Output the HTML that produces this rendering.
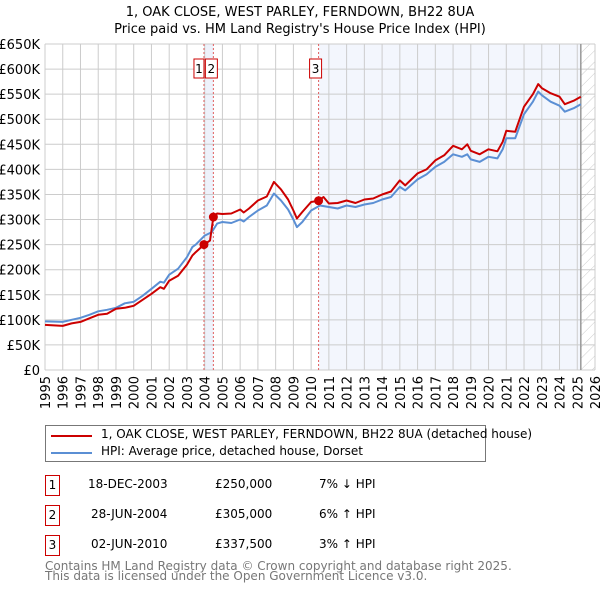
<!DOCTYPE html>
<html><head><meta charset="utf-8"><style>
body{margin:0;background:#fff;font-family:"Liberation Sans","DejaVu Sans",sans-serif;}
#wrap{position:relative;width:600px;height:590px;overflow:hidden}
svg text{font-family:"DejaVu Sans","Liberation Sans",sans-serif}
</style></head><body><div id="wrap">
<svg id="chart" width="600" height="590"></svg>
</div>
<script>
const hpiYears=[1995,1996,1996.5,1997,1997.5,1998,1998.5,1999,1999.5,2000,2000.5,2001,2001.5,2001.7,2002,2002.5,2003,2003.3,2003.5,2004,2004.4,2004.7,2005,2005.5,2006,2006.2,2006.5,2007,2007.5,2007.9,2008.3,2008.7,2009,2009.2,2009.5,2010,2010.5,2011,2011.5,2012,2012.5,2013,2013.5,2014,2014.5,2015,2015.3,2016,2016.5,2017,2017.5,2018,2018.5,2018.8,2019,2019.5,2020,2020.5,2020.8,2021,2021.5,2022,2022.5,2022.8,2023,2023.5,2024,2024.3,2024.8,2025.2];
const hpiValues=[97,96,100,104,110,117,120,124,133,136,148,162,176,174,190,202,225,245,250,268,275,292,295,293,300,296,305,318,328,352,338,320,300,285,295,318,328,325,322,328,325,330,333,340,345,365,358,380,390,405,415,430,425,430,420,415,425,422,440,462,462,510,535,555,548,535,527,515,522,530];
const propYears=[1995,1996,1996.5,1997,1997.5,1998,1998.5,1999,1999.5,2000,2000.5,2001,2001.5,2001.7,2002,2002.5,2003,2003.3,2003.5,2003.96,2004.3,2004.49,2004.7,2005,2005.5,2006,2006.2,2006.5,2007,2007.5,2007.9,2008.3,2008.7,2009,2009.2,2009.5,2010,2010.42,2010.7,2011,2011.5,2012,2012.5,2013,2013.5,2014,2014.5,2015,2015.3,2016,2016.5,2017,2017.5,2018,2018.5,2018.8,2019,2019.5,2020,2020.5,2020.8,2021,2021.5,2022,2022.5,2022.8,2023,2023.5,2024,2024.3,2024.8,2025.2];
const propValues=[90,88,93,96,103,110,112,122,124,128,140,152,165,162,178,188,210,228,235,250,258,305,312,311,312,320,314,322,338,346,375,360,340,318,302,315,335,337.5,345,332,333,338,333,340,342,350,356,378,368,392,400,418,428,447,440,450,437,430,440,436,455,477,475,525,550,570,562,552,545,530,537,545];
const saleYears=[2003.96,2004.49,2010.42];
const saleValues=[250,305,337.5];
const saleLabels=["1","2","3"];
const yTicks=[0,50,100,150,200,250,300,350,400,450,500,550,600,650];
const yTickLabels=["£0","£50K","£100K","£150K","£200K","£250K","£300K","£350K","£400K","£450K","£500K","£550K","£600K","£650K"];
const xTicks=[1995,1996,1997,1998,1999,2000,2001,2002,2003,2004,2005,2006,2007,2008,2009,2010,2011,2012,2013,2014,2015,2016,2017,2018,2019,2020,2021,2022,2023,2024,2025,2026];

const L=45,R=595,T=44,B=370,X0=1995,X1=2026,YMAX=650;
const xs=v=>L+(v-X0)/(X1-X0)*(R-L);
const ys=v=>B-v/YMAX*(B-T);
const NS="http://www.w3.org/2000/svg";
const svg=document.getElementById('chart');
function mk(tag,attrs,parent){const e=document.createElementNS(NS,tag);for(const k in attrs)e.setAttribute(k,attrs[k]);(parent||svg).appendChild(e);return e;}
function txt(s,attrs){const e=mk('text',attrs);e.textContent=s;return e;}

let t=txt("1, OAK CLOSE, WEST PARLEY, FERNDOWN, BH22 8UA",{x:300,y:16,'text-anchor':'middle','font-size':13,fill:'#000'});


t=txt("Price paid vs. HM Land Registry's House Price Index (HPI)",{x:300,y:33,'text-anchor':'middle','font-size':13,fill:'#000'});



// shaded regions
let r=mk('rect',{x:xs(saleYears[0]),y:T,width:xs(saleYears[1])-xs(saleYears[0]),height:B-T,fill:'#eef2fb'});


r=mk('rect',{x:xs(saleYears[2]),y:T,width:xs(2025.2)-xs(saleYears[2]),height:B-T,fill:'#f3f6fd'});


// hatch
const defs=mk('defs',{});
const pat=mk('pattern',{id:'hatch',width:8,height:8,patternUnits:'userSpaceOnUse',patternTransform:'rotate(45)'},defs);
mk('line',{x1:0,y1:0,x2:0,y2:8,stroke:'#ccc','stroke-width':1},pat);
r=mk('rect',{x:xs(2025.2),y:T,width:R-xs(2025.2),height:B-T,fill:'url(#hatch)'});



// grid
yTicks.forEach((v,i)=>{
  const g=mk('line',{x1:L,x2:R,y1:ys(v),y2:ys(v),stroke:'#cccccc','stroke-width':1});
  
  
  const l=txt(yTickLabels[i],{x:40,y:ys(v)+5,'text-anchor':'end','font-size':13,fill:'#000'});
  
  
});
xTicks.forEach(v=>{
  const g=mk('line',{x1:xs(v),x2:xs(v),y1:T,y2:B,stroke:'#cccccc','stroke-width':1});
  
  
  const l=txt(String(v),{x:0,y:0,'text-anchor':'end','font-size':13,fill:'#000',transform:`translate(${xs(v)+5},${B+6}) rotate(-90)`});
  
  
});
let ln=mk('line',{x1:xs(2025.2),x2:xs(2025.2),y1:T,y2:B,stroke:'#999','stroke-width':1.5});



// sale vertical lines
saleYears.forEach((y,i)=>{
  const l=mk('line',{x1:xs(y),x2:xs(y),y1:T,y2:B,stroke:'#e06060','stroke-width':1,'stroke-dasharray':'2,2'});
  
  
});

function path(xa,ya,color,name){
  let d='';xa.forEach((x,i)=>{d+=(i?'L':'M')+xs(x).toFixed(1)+','+ys(ya[i]).toFixed(1);});
  const p=mk('path',{d:d,fill:'none',stroke:color,'stroke-width':2,'stroke-linejoin':'round'});
  
  
}
path(hpiYears,hpiValues,'#5b8fd4','hpi-line');
path(propYears,propValues,'#cc0000','property-price-line');

saleYears.forEach((y,i)=>{
  const c=mk('circle',{cx:xs(y),cy:ys(saleValues[i]),r:4.5,fill:'#cc0000'});
  
  
  const bx=i===0?xs(y)-10:(i===1?xs(y)-8:xs(y)-9);
  const rb=mk('rect',{x:bx,y:59,width:i===0?10:12,height:19,fill:'#fff',stroke:'#cc0000','stroke-width':1});
  
  
  const tt=txt(saleLabels[i],{x:bx+(i===0?5:6),y:73,'text-anchor':'middle','font-size':12,fill:'#000'});
  
  
});
// redraw box 1 on top (box2 overlaps)
</script>
<div style="position:absolute;left:45px;top:425px;width:439px;height:35px;border:1px solid #777;font-size:12px;font-family:'DejaVu Sans','Liberation Sans',sans-serif">
 <div style="position:absolute;left:5px;top:9px;width:41px;height:2px;background:#cc0000"></div>
 <div style="position:absolute;left:55px;top:1px;white-space:nowrap">1, OAK CLOSE, WEST PARLEY, FERNDOWN, BH22 8UA (detached house)</div>
 <div style="position:absolute;left:5px;top:26px;width:41px;height:2px;background:#5b8fd4"></div>
 <div style="position:absolute;left:55px;top:18px;white-space:nowrap">HPI: Average price, detached house, Dorset</div>
</div>
<div style="position:absolute;left:0;top:0;font-size:12px;font-family:'DejaVu Sans','Liberation Sans',sans-serif">
 <div style="position:absolute;left:45px;top:475px;width:13px;height:19px;border:1px solid #cc0000;text-align:center;line-height:19px">1</div>
 <div style="position:absolute;left:88px;top:477px;white-space:nowrap">18-DEC-2003</div>
 <div style="position:absolute;left:215px;top:477px">£250,000</div>
 <div style="position:absolute;left:319px;top:477px;white-space:nowrap">7% ↓ HPI</div>
 <div style="position:absolute;left:45px;top:505px;width:13px;height:19px;border:1px solid #cc0000;text-align:center;line-height:19px">2</div>
 <div style="position:absolute;left:91px;top:507px;white-space:nowrap">28-JUN-2004</div>
 <div style="position:absolute;left:215px;top:507px">£305,000</div>
 <div style="position:absolute;left:319px;top:507px;white-space:nowrap">6% ↑ HPI</div>
 <div style="position:absolute;left:45px;top:535px;width:13px;height:19px;border:1px solid #cc0000;text-align:center;line-height:19px">3</div>
 <div style="position:absolute;left:91px;top:537px;white-space:nowrap">02-JUN-2010</div>
 <div style="position:absolute;left:215px;top:537px">£337,500</div>
 <div style="position:absolute;left:319px;top:537px;white-space:nowrap">3% ↑ HPI</div>
 <div style="position:absolute;left:45px;top:561px;white-space:nowrap;color:#777;line-height:10px">Contains HM Land Registry data © Crown copyright and database right 2025.<br>This data is licensed under the Open Government Licence v3.0.</div>
</div>
</body></html>
